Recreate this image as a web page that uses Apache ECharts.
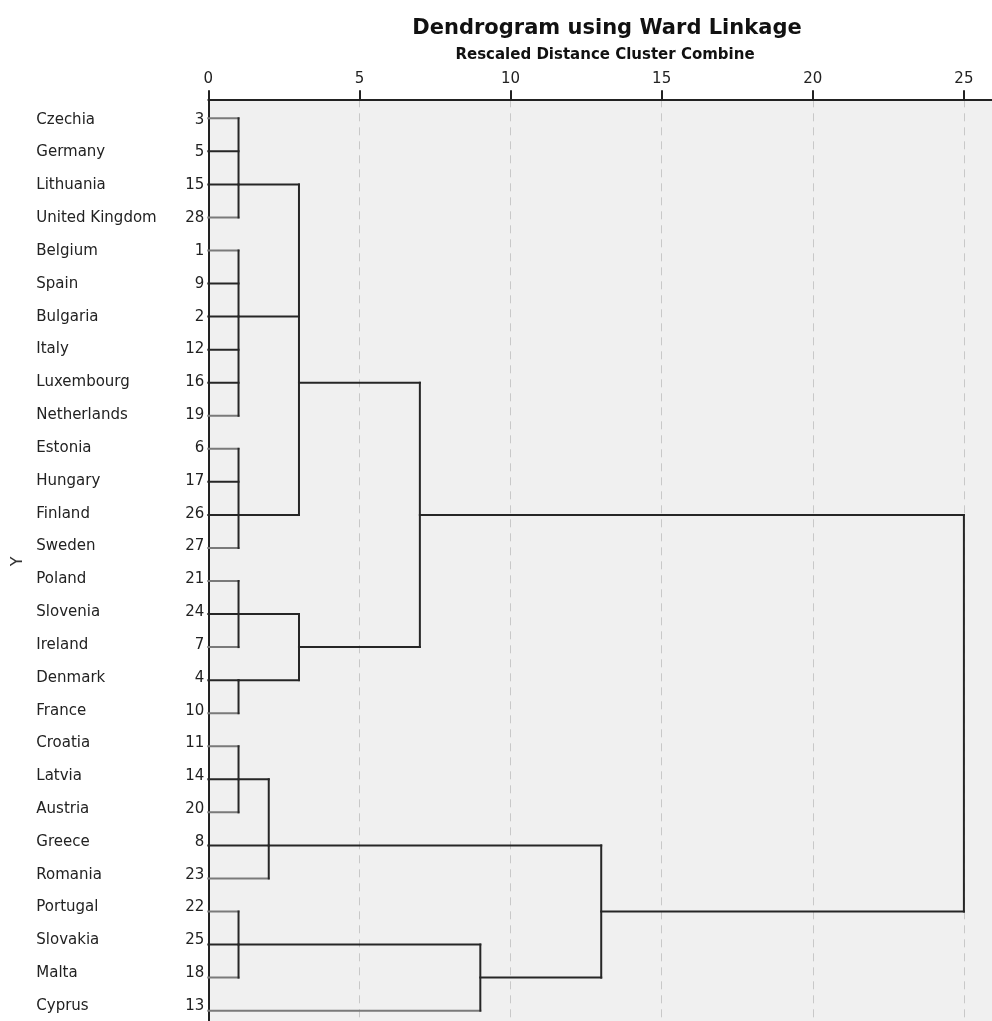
<!DOCTYPE html>
<html>
<head>
<meta charset="utf-8">
<script src="https://cdn.jsdelivr.net/npm/echarts@6/dist/echarts.min.js"></script>
<style>
  html, body { margin: 0; padding: 0; background: #ffffff; }
  #chart { width: 992px; height: 1021px; }
</style>
</head>
<body>
<div id="chart"></div>
<script>
// ---- Data ----
const countries = ['Czechia', 'Germany', 'Lithuania', 'United Kingdom', 'Belgium', 'Spain', 'Bulgaria', 'Italy',
  'Luxembourg', 'Netherlands', 'Estonia', 'Hungary', 'Finland', 'Sweden', 'Poland', 'Slovenia', 'Ireland',
  'Denmark', 'France', 'Croatia', 'Latvia', 'Austria', 'Greece', 'Romania', 'Portugal', 'Slovakia', 'Malta', 'Cyprus'];
const caseNumbers = [3, 5, 15, 28, 1, 9, 2, 12, 16, 19, 6, 17, 26, 27, 21, 24, 7, 4, 10, 11, 14, 20, 8, 23, 22, 25, 18, 13];
const xTicks = [0, 5, 10, 15, 20, 25];

// merges: children ('L' = leaf row index, 'M' = earlier merge index), rescaled distance, row of outgoing line
const mergeChildren = [
  ['L0', 'L1', 'L2', 'L3'],
  ['L4', 'L5', 'L6', 'L7', 'L8', 'L9'],
  ['L10', 'L11', 'L12', 'L13'],
  ['M0', 'M1', 'M2'],
  ['L14', 'L15', 'L16'],
  ['L17', 'L18'],
  ['M4', 'M5'],
  ['M3', 'M6'],
  ['L19', 'L20', 'L21'],
  ['M8', 'L22', 'L23'],
  ['L24', 'L25', 'L26'],
  ['M10', 'L27'],
  ['M9', 'M11'],
  ['M7', 'M12']
];
const mergeHeights = [1, 1, 1, 3, 1, 1, 3, 7, 1, 2, 1, 9, 13, 25];
const mergeRows = [2, 6, 12, 8, 15, 17, 16, 12, 20, 22, 25, 26, 24, null];

// ---- Build segments from the tree ----
function nodeInfo(id) {
  const k = +id.slice(1);
  if (id[0] === 'L') return { h: 0, row: k, leaf: true };
  return { h: mergeHeights[k], row: mergeRows[k], leaf: false };
}
const segments = [];
mergeChildren.forEach(function (children, k) {
  const H = mergeHeights[k];
  const infos = children.map(nodeInfo);
  const rows = infos.map(function (c) { return c.row; });
  const minR = Math.min.apply(null, rows), maxR = Math.max.apply(null, rows);
  infos.forEach(function (c) {
    const light = c.leaf && (c.row === minR || c.row === maxR) && c.row !== mergeRows[k];
    segments.push([c.h, c.row, H, c.row, light ? 1 : 0]);
  });
  segments.push([H, minR, H, maxR, 0]);
});
segments.sort(function (a, b) { return b[4] - a[4]; });

// ---- Layout constants ----
const ROW_PX = 33.05;
const PLOT_TOP = 99.3;
const FIRST_ROW_Y = 118.3;
const CHART_H = 1021;
const yMin = -(FIRST_ROW_Y - PLOT_TOP) / ROW_PX;
const yMax = (CHART_H - FIRST_ROW_Y) / ROW_PX;
const PX_PER_UNIT = 30.34;
const LEFT = 208.3;
const RIGHT_OVER = -3;
const xMax = (992 - RIGHT_OVER - LEFT) / PX_PER_UNIT;

const chart = echarts.init(document.getElementById('chart'), null, { renderer: 'canvas' });
const FONT = 'DejaVu Sans';

chart.setOption({
  animation: false,
  backgroundColor: '#ffffff',
  title: [
    {
      text: 'Dendrogram using Ward Linkage',
      left: 602, top: 13, textAlign: 'center',
      textStyle: { fontFamily: FONT, fontWeight: 'bold', fontSize: 21, color: '#111' }
    },
    {
      text: 'Rescaled Distance Cluster Combine',
      left: 600, top: 43, textAlign: 'center',
      textStyle: { fontFamily: FONT, fontWeight: 'bold', fontSize: 15, color: '#111' }
    }
  ],
  grid: [
    { left: LEFT, right: RIGHT_OVER, top: PLOT_TOP, bottom: 0, show: true, backgroundColor: '#f0f0f0', borderWidth: 0 },
    { left: LEFT, right: RIGHT_OVER, top: FIRST_ROW_Y - ROW_PX / 2, height: ROW_PX * countries.length, show: false }
  ],
  xAxis: [
    {
      type: 'value', gridIndex: 0, position: 'top', min: 0, max: xMax, interval: 5,
      axisLine: { show: true, onZero: false, lineStyle: { color: '#222', width: 2 } },
      axisTick: { show: true, inside: false, length: 9, lineStyle: { color: '#222', width: 2 } },
      axisLabel: {
        show: true, margin: 13, showMaxLabel: false, fontFamily: FONT, fontSize: 15, color: '#222',
        formatter: function (v) { return xTicks.indexOf(v) >= 0 ? String(v) : ''; }
      },
      splitLine: { show: true, lineStyle: { color: '#c8c8c8', width: 1, type: [8, 6] } }
    },
    { type: 'value', gridIndex: 1, min: 0, max: xMax, show: false }
  ],
  yAxis: [
    {
      type: 'value', gridIndex: 0, inverse: true, min: yMin, max: yMax,
      axisLine: { show: true, onZero: false, lineStyle: { color: '#222', width: 2 } },
      axisTick: { show: false }, axisLabel: { show: false }, splitLine: { show: false }
    },
    {
      type: 'category', gridIndex: 1, inverse: true, data: countries,
      axisLine: { show: false }, axisTick: { show: false }, splitLine: { show: false },
      name: 'Y', nameLocation: 'middle', nameGap: 181,
      nameTextStyle: { fontFamily: FONT, fontSize: 16, color: '#333' },
      axisLabel: {
        show: true, margin: 4, interval: 0,
        formatter: function (v, i) { return '{n|' + v + '}{c|' + caseNumbers[i] + '}'; },
        rich: {
          n: { width: 138, align: 'left', fontFamily: FONT, fontSize: 15, color: '#222', padding: [3, 0, 0, 0] },
          c: { width: 30, align: 'right', fontFamily: FONT, fontSize: 15, color: '#222', padding: [3, 0, 0, 0] }
        }
      }
    }
  ],
  series: [
    {
      type: 'custom',
      xAxisIndex: 0, yAxisIndex: 0,
      data: segments,
      encode: { x: [0, 2], y: [1, 3] },
      renderItem: function (params, api) {
        const p1 = api.coord([api.value(0), api.value(1)]);
        const p2 = api.coord([api.value(2), api.value(3)]);
        const light = api.value(4) === 1;
        return {
          type: 'line',
          shape: { x1: p1[0], y1: p1[1], x2: p2[0], y2: p2[1] },
          style: { stroke: light ? '#7a7a7a' : '#262626', lineWidth: 2, lineCap: 'square' }
        };
      }
    }
  ]
});
</script>
</body>
</html>
